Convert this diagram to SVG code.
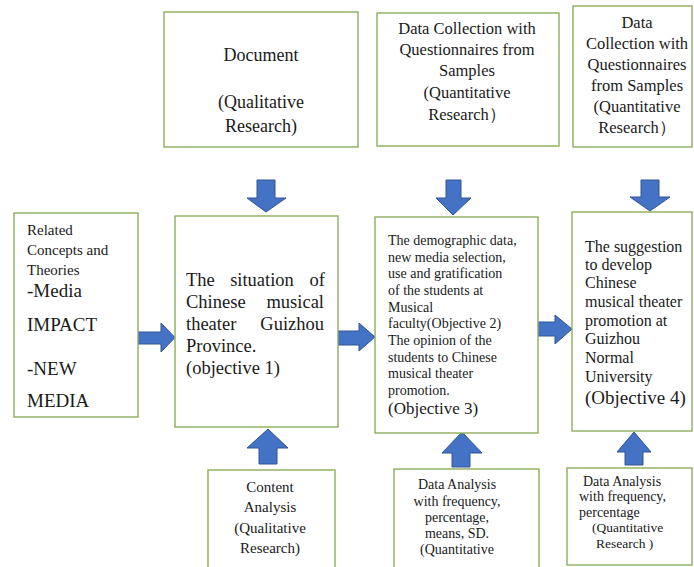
<svg xmlns="http://www.w3.org/2000/svg" width="694" height="567" viewBox="0 0 694 567">
  <style>
    .box { fill: #ffffff; stroke: #8fad5a; stroke-width: 1.4; }
    .arrow { fill: #4472c4; stroke: #2f5597; stroke-width: 1; }
    text { font-family: "Liberation Serif", "Times New Roman", serif; fill: #1a1a1a; }
    .c { text-anchor: middle; }
  </style>
  <rect width="694" height="567" fill="#ffffff"/>

  <!-- connectors -->
  <g id="connectors">
    <polygon class="arrow" points="257,180 275,180 275,198 286,198 266,212 247,198 257,198"/>
    <polygon class="arrow" points="446,180 461,180 461,198 471,198 453,215 436,198 446,198"/>
    <polygon class="arrow" points="641,180 659,180 659,197 670,197 650,211 630,197 641,197"/>
    <polygon class="arrow" points="138,332 161,332 161,323 175,337.5 161,352 161,344 138,344"/>
    <polygon class="arrow" points="338,331 359,331 359,323 375,337 359,351 359,345 338,345"/>
    <polygon class="arrow" points="538,322 555,322 555,315 572,329 555,344 555,336 538,336"/>
    <polygon class="arrow" points="259,464 277,464 277,448 288,448 268,429 247,448 259,448"/>
    <polygon class="arrow" points="452,467 470,467 470,453 482,453 462,432 442,453 452,453"/>
    <polygon class="arrow" points="625,465 643,465 643,452 651,452 634,432 617,452 625,452"/>
  </g>

  <!-- top row -->
  <g id="document">
    <rect class="box" x="164" y="12" width="194" height="135"/>
    <text class="c" x="261" y="61" font-size="18">Document</text>
    <text class="c" x="261" y="108" font-size="18">(Qualitative</text>
    <text class="c" x="261" y="132" font-size="18">Research)</text>
  </g>

  <g id="collection-1">
    <rect class="box" x="377" y="13" width="182" height="133"/>
    <text class="c" x="467" y="34" font-size="16.5">Data Collection with</text>
    <text class="c" x="467" y="55" font-size="16.5">Questionnaires from</text>
    <text class="c" x="467" y="76" font-size="16.5">Samples</text>
    <text class="c" x="467" y="98" font-size="16.5">(Quantitative</text>
    <text class="c" x="467" y="120" font-size="16.5">Research）</text>
  </g>

  <g id="collection-2">
    <rect class="box" x="573" y="6" width="119" height="141"/>
    <text class="c" x="637" y="28" font-size="16.5">Data</text>
    <text class="c" x="637" y="49" font-size="16.5">Collection with</text>
    <text class="c" x="637" y="70" font-size="16.5">Questionnaires</text>
    <text class="c" x="637" y="91" font-size="16.5">from Samples</text>
    <text class="c" x="637" y="112" font-size="16.5">(Quantitative</text>
    <text class="c" x="637" y="133" font-size="16.5">Research）</text>
  </g>

  <!-- middle row -->
  <g id="concepts">
    <rect class="box" x="14" y="213" width="124" height="204"/>
    <text x="27" y="235" font-size="15">Related</text>
    <text x="27" y="255" font-size="15">Concepts and</text>
    <text x="27" y="275" font-size="15">Theories</text>
    <text x="27" y="297" font-size="19">-Media</text>
    <text x="27" y="331" font-size="19">IMPACT</text>
    <text x="27" y="375" font-size="19">-NEW</text>
    <text x="27" y="407" font-size="19">MEDIA</text>
  </g>

  <g id="objective-1">
    <rect class="box" x="175" y="216" width="163" height="211"/>
    <text font-size="18.5" y="286"><tspan x="186">The</tspan><tspan x="262" text-anchor="middle">situation</tspan><tspan x="325" text-anchor="end">of</tspan></text>
    <text font-size="18.5" y="308"><tspan x="186">Chinese</tspan><tspan x="324" text-anchor="end">musical</tspan></text>
    <text font-size="18.5" y="330"><tspan x="186">theater</tspan><tspan x="324" text-anchor="end">Guizhou</tspan></text>
    <text x="186" y="352" font-size="18.5">Province.</text>
    <text x="186" y="374" font-size="18.5">(objective 1)</text>
  </g>

  <g id="objectives-2-3">
    <rect class="box" x="375" y="217" width="163" height="216"/>
    <text x="388" y="245" font-size="14">The demographic data,</text>
    <text x="388" y="262" font-size="14">new media selection,</text>
    <text x="388" y="278" font-size="14">use and gratification</text>
    <text x="388" y="295" font-size="14">of the students at</text>
    <text x="388" y="312" font-size="14">Musical</text>
    <text x="388" y="328" font-size="14">faculty(Objective 2)</text>
    <text x="388" y="345" font-size="14">The opinion of the</text>
    <text x="388" y="362" font-size="14">students to Chinese</text>
    <text x="388" y="378" font-size="14">musical theater</text>
    <text x="388" y="395" font-size="14">promotion.</text>
    <text x="388" y="414" font-size="17">(Objective 3)</text>
  </g>

  <g id="objective-4">
    <rect class="box" x="572" y="212" width="120" height="219"/>
    <text x="585" y="252" font-size="16">The suggestion</text>
    <text x="585" y="270" font-size="16">to develop</text>
    <text x="585" y="288" font-size="16">Chinese</text>
    <text x="585" y="307" font-size="16">musical theater</text>
    <text x="585" y="326" font-size="16">promotion at</text>
    <text x="585" y="344" font-size="16">Guizhou</text>
    <text x="585" y="363" font-size="16">Normal</text>
    <text x="585" y="382" font-size="16">University</text>
    <text x="585" y="404" font-size="19">(Objective 4)</text>
  </g>

  <!-- bottom row -->
  <g id="content-analysis">
    <rect class="box" x="208" y="470" width="127" height="105"/>
    <text class="c" x="270" y="492" font-size="15">Content</text>
    <text class="c" x="270" y="512" font-size="15">Analysis</text>
    <text class="c" x="270" y="533" font-size="15">(Qualitative</text>
    <text class="c" x="270" y="553" font-size="15">Research)</text>
  </g>

  <g id="analysis-2">
    <rect class="box" x="394" y="469" width="145" height="106"/>
    <text class="c" x="457" y="489" font-size="14">Data Analysis</text>
    <text class="c" x="457" y="506" font-size="14">with frequency,</text>
    <text class="c" x="457" y="522" font-size="14">percentage,</text>
    <text class="c" x="457" y="538" font-size="14">means, SD.</text>
    <text class="c" x="457" y="554" font-size="14">(Quantitative</text>
  </g>

  <g id="analysis-3">
    <rect class="box" x="567" y="468" width="125" height="97"/>
    <text x="583" y="486" font-size="14">Data Analysis</text>
    <text x="579" y="501" font-size="14">with frequency,</text>
    <text x="579" y="517" font-size="14">percentage</text>
    <text x="592" y="532" font-size="13.5">(Quantitative</text>
    <text x="596" y="548" font-size="13.5">Research )</text>
  </g>
</svg>
